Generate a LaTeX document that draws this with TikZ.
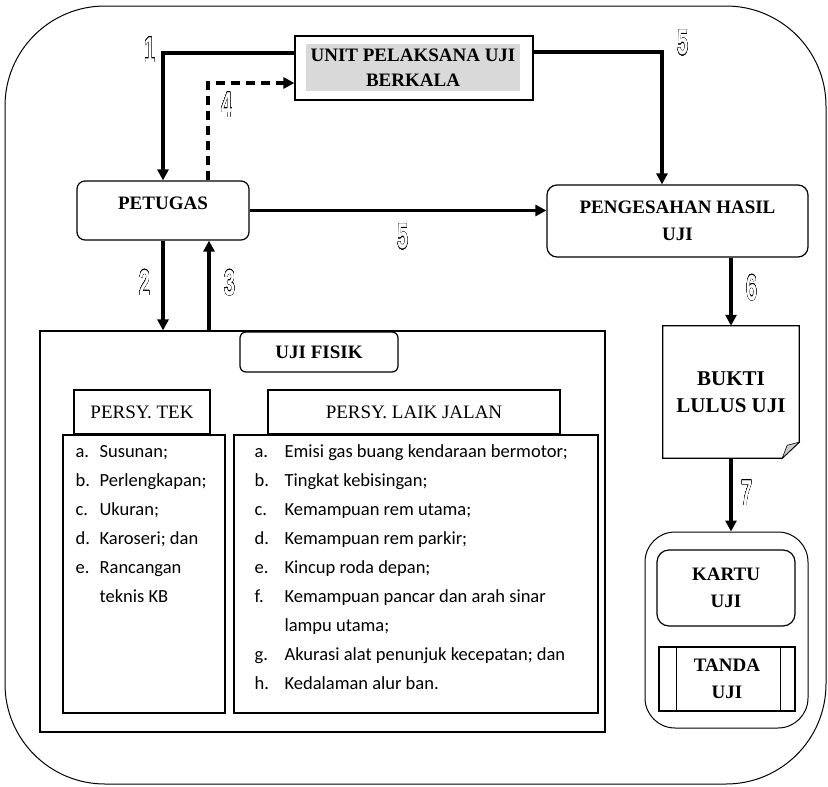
\documentclass[tikz,border=0pt]{standalone}
\usepackage{fontspec}
\setmainfont{Liberation Serif}
\setsansfont{Liberation Sans}
\newfontfamily\listfont{Carlito}
\usepackage{contour}
\usetikzlibrary{arrows.meta}
\contourlength{0.7pt}
\newcommand{\stepno}[1]{\scalebox{0.55}[1]{\fontsize{36}{36}\selectfont\sffamily\bfseries\textcolor{white}{\contour{black}{#1}}}}

\begin{document}
\begin{tikzpicture}[x=1pt,y=-1pt]
\tikzstyle{every node}+=[inner sep=0pt]
\tikzstyle{box}=[draw,line width=1.2pt,align=center]
\tikzstyle{head}=[font=\fontsize{19}{27}\selectfont\bfseries]
\tikzstyle{plainhead}=[font=\fontsize{19}{27}\selectfont]
\tikzstyle{arr}=[line width=3.5pt,-{Triangle[width=11pt,length=11pt]}]
\tikzstyle{listtext}=[anchor=north west,font=\listfont\fontsize{18.5}{29}\selectfont]
\useasboundingbox (0,0) rectangle (828,787);
\draw [line width=1pt,rounded corners=100pt] (5,6) rectangle (826,784);
\node [box,minimum width=238pt,minimum height=64pt] (unit) at (414,68) {};
\node [fill=black!15,minimum width=214pt,minimum height=47pt,align=center,font=\fontsize{19}{25}\selectfont\bfseries] (unittext) at (413,67.5) {UNIT PELAKSANA UJI\\BERKALA};
\node [box,head,rounded corners=8pt,minimum width=172pt,minimum height=59pt,text depth=14pt] (petugas) at (163,210.5) {PETUGAS};
\node [box,head,rounded corners=10pt,minimum width=261pt,minimum height=72pt] (pengesahan) at (677.5,221) {PENGESAHAN HASIL\\UJI};
\node [align=center,font=\fontsize{21}{27}\selectfont\bfseries,minimum width=136pt,minimum height=132pt] (bukti) at (731,392) {BUKTI\\LULUS UJI};
\draw [line width=1.2pt] (bukti.north west) -- (bukti.north east) -- ([yshift=16pt]bukti.south east) -- ([xshift=-17pt]bukti.south east) -- (bukti.south west) -- cycle;
\filldraw [fill=black!20,line width=0.6pt] ([xshift=-17pt]bukti.south east) -- ([yshift=16pt]bukti.south east) -- ([xshift=-12pt,yshift=13pt]bukti.south east) -- cycle;
\node [draw,line width=1pt,rounded corners=30pt,minimum width=163pt,minimum height=196pt] (kartubox) at (726.5,630) {};
\node [box,head,rounded corners=12pt,minimum width=138pt,minimum height=76pt] (kartu) at (726,588) {KARTU\\UJI};
\node [box,head,minimum width=136pt,minimum height=64pt] (tanda) at (727,679) {TANDA\\UJI};
\draw [line width=1.2pt] ([xshift=18pt]tanda.north west) -- ([xshift=18pt]tanda.south west);
\draw [line width=1.2pt] ([xshift=-15pt]tanda.north east) -- ([xshift=-15pt]tanda.south east);
\node [box,minimum width=565pt,minimum height=401pt] (fisik) at (322.5,531.5) {};
\node [box,head,fill=white,rounded corners=6pt,minimum width=158pt,minimum height=40pt] (ujifisik) at (319,352) {UJI FISIK};
\node [box,plainhead,minimum width=136pt,minimum height=44pt] (tekhead) at (142,412) {PERSY. TEK};
\node [box,plainhead,minimum width=292pt,minimum height=44pt] (laikhead) at (414,412) {PERSY. LAIK JALAN};
\node [box,minimum width=162pt,minimum height=278pt] (tekl) at (144,574) {};
\node [box,minimum width=364pt,minimum height=278pt] (laikl) at (416,574) {};
\node [listtext] (tektext) at ([xshift=13pt,yshift=-3pt]tekl.north west) {%
\begin{tabular}{@{}l@{}l@{}}
\makebox[24pt][l]{a.} & Susunan;\\
\makebox[24pt][l]{b.} & Perlengkapan;\\
\makebox[24pt][l]{c.} & Ukuran;\\
\makebox[24pt][l]{d.} & Karoseri; dan\\
\makebox[24pt][l]{e.} & Rancangan\\
 & teknis KB
\end{tabular}};
\node [listtext] (laiktext) at ([xshift=21pt,yshift=-3pt]laikl.north west) {%
\begin{tabular}{@{}l@{}l@{}}
\makebox[30pt][l]{a.} & Emisi gas buang kendaraan bermotor;\\
\makebox[30pt][l]{b.} & Tingkat kebisingan;\\
\makebox[30pt][l]{c.} & Kemampuan rem utama;\\
\makebox[30pt][l]{d.} & Kemampuan rem parkir;\\
\makebox[30pt][l]{e.} & Kincup roda depan;\\
\makebox[30pt][l]{f.} & Kemampuan pancar dan arah sinar\\
 & lampu utama;\\
\makebox[30pt][l]{g.} & Akurasi alat penunjuk kecepatan; dan\\
\makebox[30pt][l]{h.} & Kedalaman alur ban.
\end{tabular}};
\draw [arr] ([yshift=15pt]unit.west) -| (petugas.north);
\draw [arr,dash pattern=on 9pt off 6pt] ([xshift=45pt]petugas.north) |- ([yshift=-15pt]unit.west);
\draw [arr] ([yshift=16pt]unit.east) -| ([xshift=-15.5pt]pengesahan.north);
\draw [arr] (petugas.east) -- (petugas.east -| pengesahan.west);
\draw [arr] (petugas.south) -- (petugas.south |- fisik.north);
\draw [arr] ([xshift=46pt]petugas.south |- fisik.north) -- ([xshift=46pt]petugas.south);
\draw [arr] (bukti.north |- pengesahan.south) -- (bukti.north);
\draw [arr] (bukti.south) -- (bukti.south |- kartubox.north);
\node (n1) at (150,50) {\stepno{1}};
\node (n4) at (227,105) {\stepno{4}};
\node (n5a) at (683,43) {\stepno{5}};
\node (n5b) at (403,237) {\stepno{5}};
\node (n2) at (145,283) {\stepno{2}};
\node (n3) at (230,283) {\stepno{3}};
\node (n6) at (752,288) {\stepno{6}};
\node (n7) at (747,493) {\stepno{7}};
\end{tikzpicture}
\end{document}
